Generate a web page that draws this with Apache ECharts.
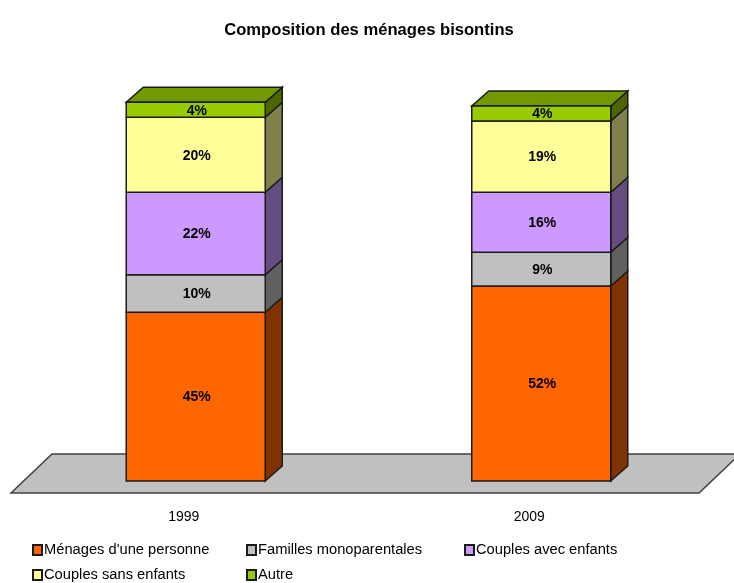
<!DOCTYPE html>
<html>
<head>
<meta charset="utf-8">
<title>Composition des ménages bisontins</title>
<style>
html, body { margin: 0; padding: 0; background: #fff; overflow: hidden; }
#chart { width: 734px; height: 583px; }
</style>
<script src="https://cdn.jsdelivr.net/npm/echarts@6/dist/echarts.min.js"></script>
</head>
<body>
<div id="chart"></div>
<script>
var years = ['1999', '2009'];
var menages = [45, 52];
var familles = [10, 9];
var avecEnfants = [22, 16];
var sansEnfants = [20, 19];
var autre = [4, 4];

var stackNames = ["Ménages d'une personne", 'Familles monoparentales', 'Couples avec enfants', 'Couples sans enfants', 'Autre'];
var stackValues = [menages, familles, avecEnfants, sansEnfants, autre];
var frontColors = ['#FF6600', '#C0C0C0', '#CC99FF', '#FFFF99', '#99CC00'];
var sideColors = ['#803300', '#606060', '#664D80', '#80804D', '#4D6600'];
var topColor = '#739900';

var fontFamily = '"Liberation Sans", Arial, sans-serif';
var edge = '#1a1a1a';
var barWidth = 139;
var depthX = 17, depthY = 15;   // profondeur des barres
var shiftX = 12, shiftY = 12;   // barres posées au milieu du plancher
var floorWidth = 688, floorX = 41, floorY = 39;

// le plancher gris sous les barres
var floorItem = function (params) {
    var r = params.coordSys;
    var bottom = r.y + r.height;
    var left = r.x, right = r.x + floorWidth;
    return {
        type: 'polygon',
        shape: { points: [[left, bottom], [right, bottom], [right + floorX, bottom - floorY], [left + floorX, bottom - floorY]] },
        style: { fill: '#C0C0C0', stroke: '#404040', lineWidth: 1.5 }
    };
};

// un segment de barre en faux 3D : face, côté, et dessus pour le dernier
var segmentItem = function (s) {
    return function (params, api) {
        var base = api.coord([api.value(0), api.value(1)]);
        var end = api.coord([api.value(0), api.value(2)]);
        var x0 = base[0] + shiftX - barWidth / 2, x1 = x0 + barWidth;
        var y0 = base[1] - shiftY, y1 = end[1] - shiftY;
        var children = [{
            type: 'polygon',
            shape: { points: [[x1, y0], [x1 + depthX, y0 - depthY], [x1 + depthX, y1 - depthY], [x1, y1]] },
            style: { fill: sideColors[s], stroke: edge, lineWidth: 1.5 }
        }];
        if (s === stackValues.length - 1) {
            children.push({
                type: 'polygon',
                shape: { points: [[x0, y1], [x1, y1], [x1 + depthX, y1 - depthY], [x0 + depthX, y1 - depthY]] },
                style: { fill: topColor, stroke: edge, lineWidth: 1.5 }
            });
        }
        children.push({
            type: 'rect',
            shape: { x: x0, y: y1, width: barWidth, height: y0 - y1 },
            style: { fill: frontColors[s], stroke: edge, lineWidth: 1.5 }
        });
        children.push({
            type: 'text',
            style: {
                x: (x0 + x1) / 2 + 1, y: (y0 + y1) / 2 + 1,
                text: (api.value(2) - api.value(1)) + '%',
                fill: '#000', align: 'center', verticalAlign: 'middle',
                font: 'bold 14px ' + fontFamily
            }
        });
        return { type: 'group', children: children };
    };
};

var series = [{
    name: 'plancher',
    type: 'custom',
    silent: true,
    renderItem: floorItem,
    data: [[0]],
    encode: { x: 0 },
    z: 1
}];
var running = years.map(function () { return 0; });
stackNames.forEach(function (name, s) {
    var rows = years.map(function (y, i) {
        var row = [i, running[i], running[i] + stackValues[s][i]];
        running[i] = row[2];
        return row;
    });
    series.push({
        name: name,
        type: 'custom',
        renderItem: segmentItem(s),
        data: rows,
        encode: { x: 0, y: [1, 2] },
        itemStyle: { color: frontColors[s], borderColor: edge, borderWidth: 1 },
        z: 2 + s
    });
});

var legendColumn = function (left, names) {
    return {
        left: left,
        top: 540,
        height: 80,
        orient: 'vertical',
        icon: 'rect',
        itemWidth: 9,
        itemHeight: 10,
        itemGap: 5,
        padding: 0,
        selectedMode: false,
        data: names,
        textStyle: { fontFamily: fontFamily, fontSize: 14.7, color: '#000', padding: [0, 0, 0, -3], height: 20, lineHeight: 20 }
    };
};

var chart = echarts.init(document.getElementById('chart'));
chart.setOption({
    animation: false,
    backgroundColor: '#fff',
    title: {
        text: 'Composition des ménages bisontins',
        left: 364,
        top: 17,
        textAlign: 'center',
        textStyle: { fontFamily: fontFamily, fontSize: 16.6, fontWeight: 'bold', color: '#000' }
    },
    legend: [
        legendColumn(32, [stackNames[0], stackNames[3]]),
        legendColumn(246, [stackNames[1], stackNames[4]]),
        legendColumn(464, [stackNames[2]])
    ],
    grid: { left: 11, right: 32, top: 99.25, bottom: 90 },
    xAxis: {
        type: 'category',
        data: years,
        axisLine: { show: false },
        axisTick: { show: false },
        axisLabel: { margin: 17, color: '#000', fontFamily: fontFamily, fontSize: 14 }
    },
    yAxis: { type: 'value', min: 0, max: 105, show: false },
    series: series
});
</script>
</body>
</html>
